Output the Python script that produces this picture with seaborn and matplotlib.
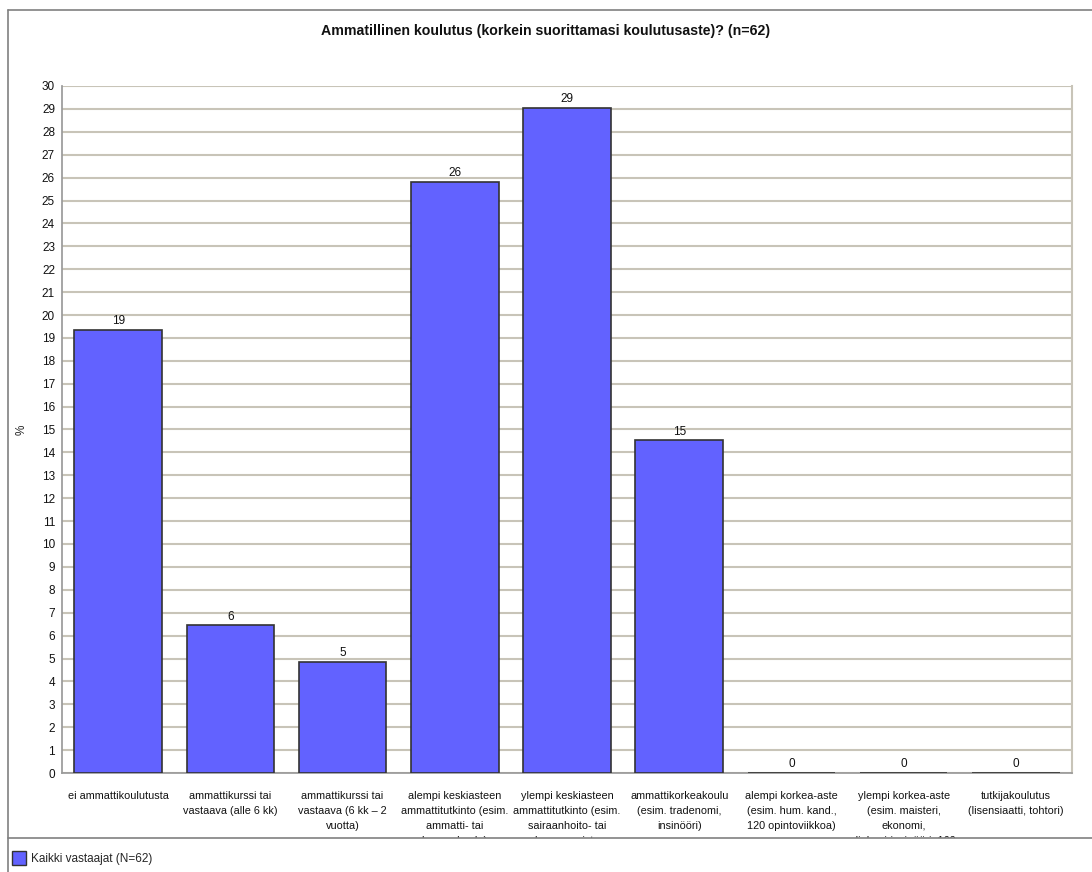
import matplotlib
matplotlib.use("Agg")
import matplotlib.pyplot as plt
import matplotlib.font_manager as fm
from matplotlib.patches import Rectangle, Patch
from matplotlib.lines import Line2D
import seaborn as sns
import pandas as pd

categories = [
    "ei ammattikoulutusta",
    "ammattikurssi tai\nvastaava (alle 6 kk)",
    "ammattikurssi tai\nvastaava (6 kk – 2\nvuotta)",
    "alempi keskiasteen\nammattitutkinto (esim.\nammatti- tai\nkauppakoulu)",
    "ylempi keskiasteen\nammattitutkinto (esim.\nsairaanhoito- tai\nkauppaopisto",
    "ammattikorkeakoulu\n(esim. tradenomi,\ninsinööri)",
    "alempi korkea-aste\n(esim. hum. kand.,\n120 opintoviikkoa)",
    "ylempi korkea-aste\n(esim. maisteri,\nekonomi,\ndiplomi-insinööri, 160",
    "tutkijakoulutus\n(lisensiaatti, tohtori)",
]
values = [19.35, 6.45, 4.84, 25.81, 29.03, 14.52, 0.0, 0.0, 0.0]
series_name = "Kaikki vastaajat (N=62)"
title = "Ammatillinen koulutus (korkein suorittamasi koulutusaste)? (n=62)"
y_ticks = list(range(0, 31))

sns.set_theme(style="white")
names = {f.name for f in fm.fontManager.ttflist}
fam = "Liberation Sans Narrow" if "Liberation Sans Narrow" in names else "Liberation Sans"
plt.rcParams["font.family"] = [fam, "DejaVu Sans"]

W, H = 1092, 872
fig = plt.figure(figsize=(W / 100, H / 100), dpi=100)
fig.patch.set_facecolor("white")
ax = fig.add_axes([62 / W, 1 - 773 / H, (1072 - 62) / W, (773 - 86) / H])

df = pd.DataFrame({"cat": categories, "val": values})
bar_color = "#6262FF"
sns.barplot(data=df, x="cat", y="val", color=bar_color, saturation=1,
            edgecolor="#333333", linewidth=1.2, width=0.78, ax=ax, zorder=3)

ax.set_ylim(0, 30)
ax.set_xlim(-0.5, len(categories) - 0.5)
ax.set_yticks(y_ticks)
ax.set_yticklabels([str(t) for t in y_ticks], fontsize=8.5)
ax.yaxis.grid(True, color="#c8c4b8", linewidth=1.5, zorder=0)
ax.set_axisbelow(True)
ax.tick_params(axis="y", pad=5, length=0, labelcolor="#111111")
ax.tick_params(axis="x", pad=13, length=0, labelcolor="#111111")
for lab in ax.get_xticklabels():
    lab.set_fontsize(7.8)
    lab.set_linespacing(1.62)
    lab.set_verticalalignment("top")
ax.set_xlabel("")
ax.set_ylabel("%", fontsize=8.5, labelpad=10)
ax.spines["top"].set_visible(False)
ax.spines["left"].set_color("#9a9a9a")
ax.spines["right"].set_color("#c8c4b8")
ax.spines["right"].set_linewidth(1.5)
ax.spines["bottom"].set_color("#9a9a9a")

ax.bar_label(ax.containers[0], labels=[f"{round(v)}" for v in values],
             padding=2, fontsize=8.5, color="#111111")

fig.text(0.5, 1 - 31 / H, title, ha="center", va="center",
         fontsize=10.2, fontweight="bold", color="#111111")

# outer frame
fig.add_artist(Line2D([8 / W, 8 / W], [0, 1 - 10 / H], transform=fig.transFigure,
                      color="#808080", linewidth=1.2, zorder=20))
fig.add_artist(Line2D([8 / W, 1], [1 - 10 / H, 1 - 10 / H], transform=fig.transFigure,
                      color="#808080", linewidth=1.2, zorder=20))
# legend strip that clips the long labels
fig.add_artist(Rectangle((8.6 / W, 0), 1, 1 - 838 / H, transform=fig.transFigure,
                         facecolor="white", edgecolor="none", zorder=15))
fig.add_artist(Line2D([8 / W, 1], [1 - 838 / H, 1 - 838 / H], transform=fig.transFigure,
                      color="#808080", linewidth=1.2, zorder=20))
leg = fig.legend(handles=[Patch(facecolor=bar_color, edgecolor="#333333", label=series_name)],
                 loc="lower left", bbox_to_anchor=(1 / W, -4 / H), frameon=False,
                 fontsize=8.5, handlelength=1.2, handleheight=1.5, handletextpad=0.4)
leg.set_zorder(25)

fig.savefig("out.png", dpi=100)
